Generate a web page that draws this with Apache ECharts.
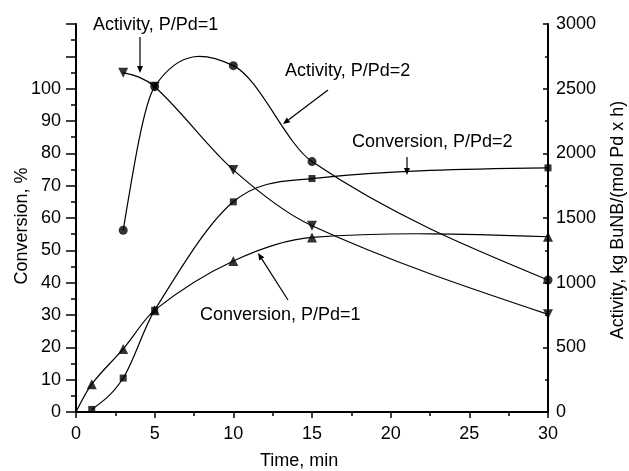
<!DOCTYPE html>
<html>
<head>
<meta charset="utf-8">
<script src="https://cdn.jsdelivr.net/npm/echarts@6/dist/echarts.min.js"></script>
<style>html,body{margin:0;padding:0;background:#fff}#c{width:629px;height:471px}</style>
</head>
<body>
<div id="c"></div>
<script>
// ---- data ----
const xTicks = [0, 5, 10, 15, 20, 25, 30];
const convTime = [1, 3, 5, 10, 15, 30];
const conv2 = [0.8, 10.5, 31.5, 65, 72.2, 75.5];          // Conversion, P/Pd=2 (squares), %
const conv1Time = [0, 1, 3, 5, 10, 15, 30];
const conv1 = [0, 8.6, 19.5, 31.5, 46.7, 54, 54.2];        // Conversion, P/Pd=1 (up triangles), %
const actTime = [3, 5, 10, 15, 30];
const act1 = [2624, 2515, 1872, 1440, 755];                 // Activity, P/Pd=1 (down triangles)
const act2 = [1405, 2516, 2678, 1936, 1021];                // Activity, P/Pd=2 (circles)
const leftTicksMax = 100;

const FONT = '"Liberation Sans", Arial, sans-serif';
const FS = 18;

function pairs(xs, ys) { return xs.map((x, i) => [x, ys[i]]); }

// Catmull-Rom style slopes at the nodes, natural condition at the ends
function splineSlopes(xs, ys) {
  const n = xs.length, s = new Array(n);
  for (let i = 1; i < n - 1; i++) s[i] = (ys[i + 1] - ys[i - 1]) / (xs[i + 1] - xs[i - 1]);
  const d0 = (ys[1] - ys[0]) / (xs[1] - xs[0]);
  const dn = (ys[n - 1] - ys[n - 2]) / (xs[n - 1] - xs[n - 2]);
  s[0] = n > 2 ? (3 * d0 - s[1]) / 2 : d0;
  s[n - 1] = n > 2 ? (3 * dn - s[n - 2]) / 2 : dn;
  return s;
}

function curveSeries(xs, ys, yAxisIndex) {
  return {
    type: 'custom', yAxisIndex, silent: true, z: 1, clip: false,
    data: [pairs(xs, ys)[0]],
    renderItem: function (params, api) {
      const s = splineSlopes(xs, ys);
      const p0 = api.coord([xs[0], ys[0]]);
      let d = 'M' + p0[0] + ' ' + p0[1];
      for (let i = 0; i < xs.length - 1; i++) {
        const h = xs[i + 1] - xs[i];
        const c1 = api.coord([xs[i] + h / 3, ys[i] + s[i] * h / 3]);
        const c2 = api.coord([xs[i + 1] - h / 3, ys[i + 1] - s[i + 1] * h / 3]);
        const p1 = api.coord([xs[i + 1], ys[i + 1]]);
        d += ' C' + c1[0] + ' ' + c1[1] + ' ' + c2[0] + ' ' + c2[1] + ' ' + p1[0] + ' ' + p1[1];
      }
      return { type: 'path', shape: { pathData: d }, style: { fill: null, stroke: '#000', lineWidth: 1.2 } };
    }
  };
}

function arrow(x1, y1, x2, y2) {
  const dx = x2 - x1, dy = y2 - y1, L = Math.hypot(dx, dy);
  const ux = dx / L, uy = dy / L, hl = 7, hw = 3;
  const bx = x2 - ux * hl, by = y2 - uy * hl;
  return [
    { type: 'line', shape: { x1, y1, x2: bx, y2: by }, style: { stroke: '#000', lineWidth: 1.2 } },
    { type: 'polygon', shape: { points: [[x2, y2], [bx - uy * hw, by + ux * hw], [bx + uy * hw, by - ux * hw]] }, style: { fill: '#000' } }
  ];
}
function label(text, x, y, rot, align) {
  return { type: 'text', x, y, rotation: rot || 0,
    style: { text, fontSize: FS, fontFamily: FONT, fill: '#000', align: align || 'left', verticalAlign: 'middle' } };
}

const chart = echarts.init(document.getElementById('c'));
const axisCommon = {
  axisLine: { show: true, lineStyle: { color: '#000', width: 2 } },
  splitLine: { show: false },
  axisLabel: { color: '#000', fontSize: FS, fontFamily: FONT }
};

chart.setOption({
  animation: false,
  backgroundColor: '#fff',
  grid: { left: 76, right: 81, top: 24, bottom: 59 },
  xAxis: Object.assign({}, axisCommon, {
    type: 'value', min: xTicks[0], max: xTicks[xTicks.length - 1], interval: 5,
    axisTick: { show: true, inside: false, length: 6, lineStyle: { color: '#000', width: 1.5 } },
    minorTick: { show: true, splitNumber: 2, length: 4, lineStyle: { color: '#000', width: 1.5 } },
    axisLabel: Object.assign({}, axisCommon.axisLabel, { margin: 13 })
  }),
  yAxis: [
    Object.assign({}, axisCommon, {
      type: 'value', min: 0, max: 120, interval: 10, position: 'left',
      axisTick: { show: true, inside: false, length: 10, lineStyle: { color: '#000', width: 1.5 } },
      minorTick: { show: true, splitNumber: 2, length: 5, lineStyle: { color: '#000', width: 1.5 } },
      axisLabel: Object.assign({}, axisCommon.axisLabel, { margin: 15, formatter: v => v <= leftTicksMax ? String(v) : '' })
    }),
    Object.assign({}, axisCommon, {
      type: 'value', min: 0, max: 3000, interval: 500, position: 'right',
      axisTick: { show: true, inside: true, length: 5, lineStyle: { color: '#000', width: 1.5 } },
      minorTick: { show: true, splitNumber: 2, length: 3, lineStyle: { color: '#000', width: 1.5 } },
      axisLabel: Object.assign({}, axisCommon.axisLabel, { margin: 8, formatter: v => String(v) })
    })
  ],
  series: [
    curveSeries(convTime, conv2, 0),
    curveSeries(conv1Time, conv1, 0),
    curveSeries(actTime, act1, 1),
    curveSeries(actTime, act2, 1),
    { name: 'Conversion, P/Pd=2', type: 'scatter', yAxisIndex: 0, data: pairs(convTime, conv2),
      symbol: 'rect', symbolSize: 7, itemStyle: { color: '#000' }, z: 3 },
    { name: 'Conversion, P/Pd=1', type: 'scatter', yAxisIndex: 0, data: pairs(conv1Time, conv1).slice(1),
      symbol: 'triangle', symbolSize: 10, itemStyle: { color: '#000' }, z: 3 },
    { name: 'Activity, P/Pd=1', type: 'scatter', yAxisIndex: 1, data: pairs(actTime, act1),
      symbol: 'triangle', symbolRotate: 180, symbolSize: 10, itemStyle: { color: '#000' }, z: 3 },
    { name: 'Activity, P/Pd=2', type: 'scatter', yAxisIndex: 1, data: pairs(actTime, act2),
      symbol: 'circle', symbolSize: 9, itemStyle: { color: '#000' }, z: 3 }
  ],
  graphic: [
    label('Time, min', 260, 461),
    label('Conversion, %', 22, 226, Math.PI / 2, 'center'),
    label('Activity, kg BuNB/(mol Pd x h)', 618, 220, Math.PI / 2, 'center'),
    label('Activity, P/Pd=1', 93, 25),
    label('Activity, P/Pd=2', 285, 71),
    label('Conversion, P/Pd=2', 352, 142),
    label('Conversion, P/Pd=1', 200, 315)
  ].concat(arrow(140, 37, 140, 73), arrow(328, 90, 283, 124), arrow(407, 157, 407, 175), arrow(288, 300, 258, 253))
});
</script>
</body>
</html>
